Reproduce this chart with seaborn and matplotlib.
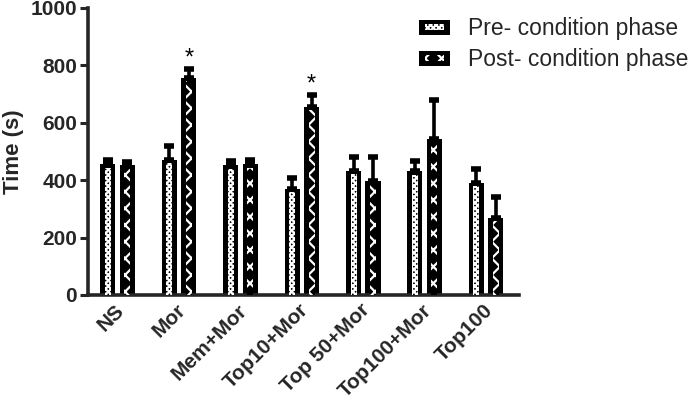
import pandas as pd
import numpy as np
import matplotlib
matplotlib.use("Agg")
import matplotlib.pyplot as plt
import matplotlib.transforms as mtransforms
from matplotlib.patches import Rectangle
from matplotlib.legend_handler import HandlerBase
import seaborn as sns

groups = ["NS", "Mor", "Mem+Mor", "Top10+Mor", "Top 50+Mor", "Top100+Mor", "Top100"]
phases = ["Pre- condition phase", "Post- condition phase"]
pre_mean = [455, 470, 452, 369, 432, 431, 390]
pre_err = [15, 50, 15, 40, 50, 35, 50]
post_mean = [452, 756, 455, 655, 397, 543, 268]
post_err = [12, 30, 15, 40, 85, 135, 72]
star_groups = ["Mor", "Top10+Mor"]

df = pd.DataFrame({
    "group": groups * 2,
    "phase": [phases[0]] * len(groups) + [phases[1]] * len(groups),
    "time": pre_mean + post_mean,
    "err": pre_err + post_err,
})

hatches = {phases[0]: "xxxxxx", phases[1]: "xx"}


class PatternHandler(HandlerBase):
    # black box with a small white pattern in the middle, like the bars
    def create_artists(self, legend, orig_handle, xdescent, ydescent, width, height, fontsize, trans):
        outer = Rectangle((-xdescent, -ydescent), width, height, facecolor="black",
                          linewidth=0, transform=trans)
        inner = Rectangle((-xdescent + width * 0.18, -ydescent + height * 0.3), width * 0.64,
                          height * 0.4, facecolor="black", edgecolor="white",
                          hatch=orig_handle.get_hatch(), linewidth=0, transform=trans)
        return [outer, inner]


sns.set_style("ticks")
plt.rcParams["font.family"] = ["Liberation Sans", "DejaVu Sans"]
plt.rcParams["hatch.linewidth"] = 1.6

fig = plt.figure(figsize=(6.95, 4.12), dpi=100)
ax = fig.add_axes([0.127, 0.284, 0.62, 0.697])

sns.barplot(data=df, x="group", y="time", hue="phase", order=groups, hue_order=phases,
            palette=["black", "black"], width=0.635, gap=0.23, errorbar=None,
            linewidth=0, ax=ax, legend=False)

bars = ax.patches[:len(df)]
# seaborn draws hue levels in order: first all pre bars, then all post bars
for i, bar in enumerate(bars):
    ph = phases[0] if i < len(groups) else phases[1]
    row = df[(df["phase"] == ph) & (df["group"] == groups[i % len(groups)])].iloc[0]
    x0, w, h = bar.get_x(), bar.get_width(), bar.get_height()
    inset = w * 0.3
    ax.add_patch(Rectangle((x0 + inset, 0), w - 2 * inset, h - 12, facecolor="black",
                           edgecolor="white", hatch=hatches[ph], linewidth=0, zorder=3))
    cx = x0 + w / 2
    ax.errorbar([cx], [row["time"]], yerr=[[0], [row["err"]]], fmt="none", ecolor="black",
                elinewidth=2.6, capsize=3.5, capthick=4, zorder=2)
    if ph == phases[1] and row["group"] in star_groups:
        ax.text(cx, row["time"] + row["err"] - 2, "*", ha="center", va="bottom",
                fontsize=17, color="black")

ax.set_ylim(0, 1000)
ax.set_xlim(-0.48, 6.54)
ax.set_yticks([0, 200, 400, 600, 800, 1000])
ax.set_ylabel("Time (s)", fontsize=16, fontweight="bold", labelpad=5)
ax.set_xlabel("")
ax.tick_params(axis="y", length=6, width=2.2, labelsize=15, pad=2)
ax.tick_params(axis="x", length=0, labelsize=15, pad=4)
shift = mtransforms.ScaledTranslation(-2 / 72, 0, fig.dpi_scale_trans)
for lab in ax.get_yticklabels() + ax.get_xticklabels():
    lab.set_fontweight("bold")
for lab in ax.get_xticklabels():
    lab.set_transform(lab.get_transform() + shift)
plt.setp(ax.get_xticklabels(), rotation=45, ha="right", rotation_mode="anchor")
for side in ["left", "bottom"]:
    ax.spines[side].set_linewidth(2.6)
sns.despine(ax=ax)

handles = [Rectangle((0, 0), 1, 1, hatch=hatches[p]) for p in phases]
fig.legend(handles, phases, loc="upper left", bbox_to_anchor=(0.603, 0.958), frameon=False,
           fontsize=16.5, handlelength=1.35, handleheight=0.6, handletextpad=0.8,
           labelspacing=0.35, borderaxespad=0, borderpad=0,
           handler_map={Rectangle: PatternHandler()})

plt.savefig("out.png", dpi=100)
plt.close()
